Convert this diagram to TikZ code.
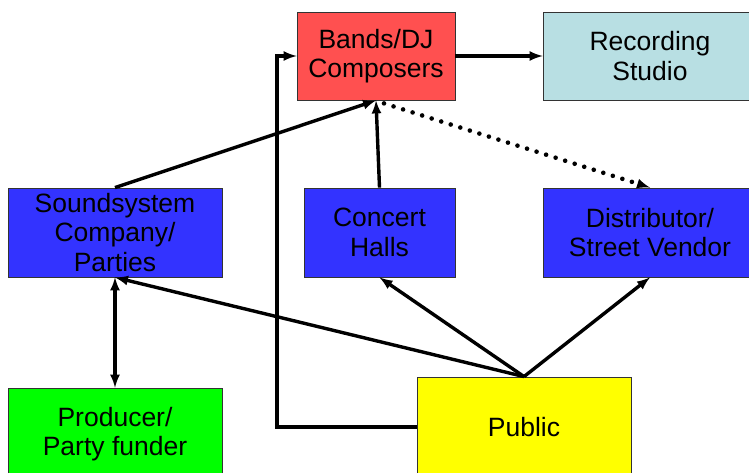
\documentclass[tikz,border=0pt]{standalone}
\usepackage{fontspec}
\setmainfont{Liberation Sans}
\usetikzlibrary{positioning}
\usetikzlibrary{arrows}
\usetikzlibrary{calc}

\definecolor{bandred}{HTML}{FF5050}
\definecolor{studioblue}{HTML}{B8DFE3}
\definecolor{venueblue}{HTML}{3333FF}
\definecolor{funderg}{HTML}{00FF00}
\definecolor{publicy}{HTML}{FFFF00}

\begin{document}
\begin{tikzpicture}[x=1pt,y=-1pt,>=latex,
    box/.style={draw=black!80, line width=0.8pt, align=center, inner sep=0pt,
                font=\fontsize{26.5}{29.5}\selectfont},
    link/.style={line width=3.4pt},
    dots/.style={line width=4.6pt, line cap=round, dash pattern=on 0pt off 10pt}]
  % page frame
  \useasboundingbox (0,0) rectangle (749,473);

  % top row
  \node[box, fill=bandred, minimum width=158pt, minimum height=88pt] (bands) at (376,56) {Bands/DJ\\Composers};
  \node[box, fill=studioblue, minimum width=214pt, minimum height=88pt] (studio) at (650,56) {Recording\\Studio};

  % middle row
  \node[box, fill=venueblue, minimum width=214pt, minimum height=89pt] (sound) at (115,232.5) {Soundsystem\\Company/\\Parties};
  \node[box, fill=venueblue, minimum width=151pt, minimum height=89pt] (halls) at (379.5,232.5) {Concert\\Halls};
  \node[box, fill=venueblue, minimum width=214pt, minimum height=89pt] (distrib) at (650,232.5) {Distributor/\\Street Vendor};

  % bottom row
  \node[box, fill=funderg, minimum width=214pt, minimum height=92pt] (funder) at (115,434) {Producer/\\Party funder};
  \node[box, fill=publicy, minimum width=214pt, minimum height=100pt] (public) at (524,427) {Public};

  \coordinate (bend) at (277,56);

  \draw[link,->] (bands) -- (studio);
  \draw[link,->] (sound.north) -- (bands.south);
  \draw[link,->] (halls.north) -- (bands.south);
  % dotted link, solid tip at the end
  \draw[dots] ($(bands.south)+(8,3)$) -- ($(distrib.north)!14pt!(bands.south)$);
  \draw[link,->] ($(distrib.north)!12pt!(bands.south)$) -- (distrib.north);
  \draw[link,->] (public.north) -- (sound.south);
  \draw[link,->] (public.north) -- (halls.south);
  \draw[link,->] (public.north) -- (distrib.south);
  \draw[link,<->] (sound.south) -- (funder.north);
  \draw[link,->] (public.west) -| (bend) -- (bands.west);
\end{tikzpicture}
\end{document}
